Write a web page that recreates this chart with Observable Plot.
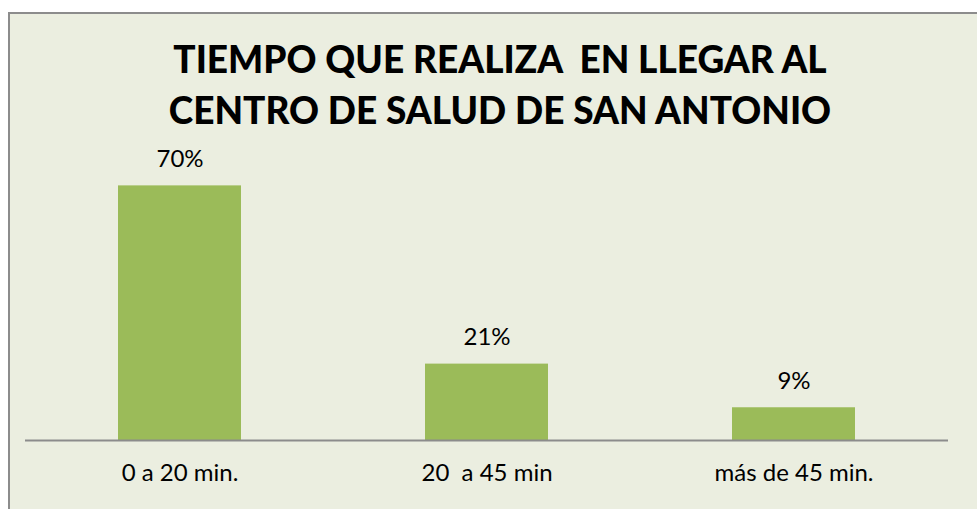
<!DOCTYPE html>
<html>
<head>
<meta charset="utf-8">
<script src="https://cdn.jsdelivr.net/npm/d3@7"></script>
<script src="https://cdn.jsdelivr.net/npm/@observablehq/plot@0.6"></script>
<style>
  html, body { margin: 0; padding: 0; background: #ffffff; }
  #wrap { position: relative; width: 977px; height: 509px; overflow: hidden; }
  #frame { position: absolute; left: 8px; top: 12px; right: -10px; bottom: -10px;
           background: #ebeee0; border-left: 2px solid #8c8c8c; border-top: 2px solid #8c8c8c; }
  #title { position: absolute; left: 0; width: 1000px; top: 33px; text-align: center;
           font-family: Lato, sans-serif; font-weight: 900; font-size: 37px; line-height: 51px; color: #000; }
  #chart { position: absolute; left: 0; top: 0; }
</style>
</head>
<body>
<div id="wrap">
  <div id="frame"></div>
  <div id="title">TIEMPO QUE REALIZA&nbsp; EN LLEGAR AL<br>CENTRO DE SALUD DE SAN ANTONIO</div>
  <div id="chart"></div>
</div>
<script>
const categories = ["0 a 20 min.", "20  a 45 min", "más de 45 min."];
const percentages = [70, 21, 9];
const valueLabels = ["70%", "21%", "9%"];

const data = categories.map((c, i) => ({category: c, value: percentages[i], label: valueLabels[i]}));

const chart = Plot.plot({
  width: 977,
  height: 509,
  marginLeft: 25,
  marginRight: 29,
  marginTop: 149,
  marginBottom: 69,
  style: {background: "transparent", fontFamily: "Lato, sans-serif", color: "#000"},
  x: {domain: categories, paddingInner: 0.6, paddingOuter: 0.3, label: null},
  y: {domain: [0, 80], axis: null},
  marks: [
    Plot.barY(data, {x: "category", y: "value", fill: "#9bbb59"}),
    Plot.ruleY([0], {stroke: "#8c8c8c", strokeWidth: 2}),
    Plot.text(data, {x: "category", y: "value", text: "label", lineAnchor: "bottom", dy: -19, fontSize: 24, fill: "#000"}),
    Plot.axisX({tickSize: 0, tickPadding: 23, fontSize: 24, label: null, color: "#000"})
  ]
});
document.getElementById("chart").appendChild(chart);
</script>
</body>
</html>
